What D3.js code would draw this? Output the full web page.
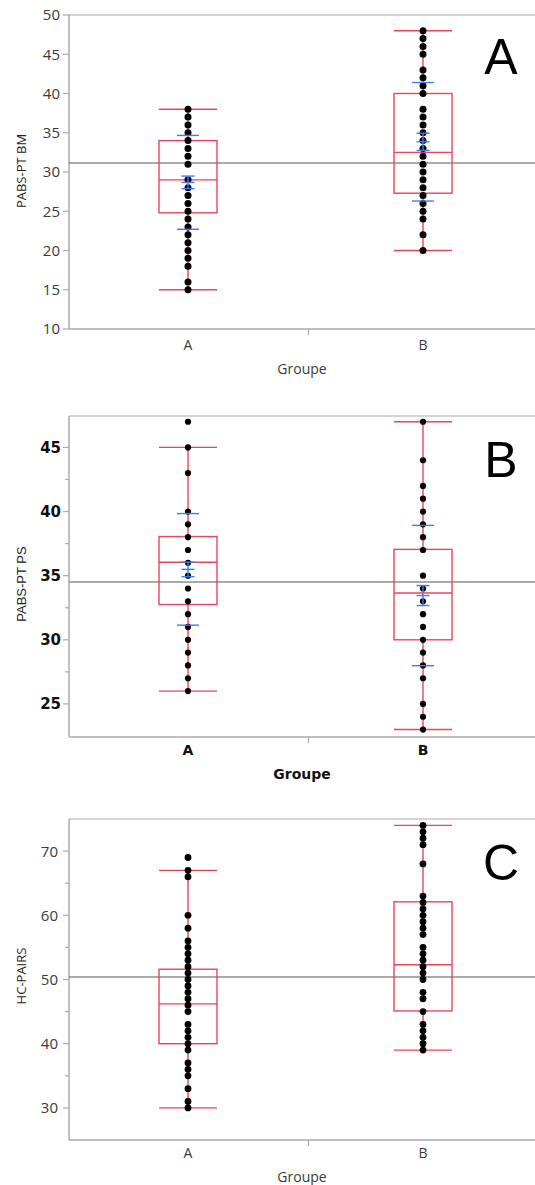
<!DOCTYPE html>
<html>
<head>
<meta charset="utf-8">
<script src="https://cdn.jsdelivr.net/npm/d3@7"></script>
<style>
  body { margin: 0; background: #fff; }
  svg { display: block; }
</style>
</head>
<body>
<div id="chart"></div>
<script>
// groups on the x axis
var groups = ["A", "B"];

// panel A : PABS-PT BM
var bmA = [38, 37, 36, 35, 34, 33, 32, 31, 29, 28, 27, 26, 25, 24, 23, 22, 21, 20, 19, 18, 16, 15];
var bmB = [48, 47, 46, 45, 43, 42, 41, 40, 38, 37, 36, 35, 34, 33, 32, 31, 30, 29, 28, 27, 26, 25, 24, 22, 20];
var bmBox = [[15, 24.8, 29, 34, 38], [20, 27.3, 32.5, 40, 48]];   // whisker lo, q1, median, q3, whisker hi
var bmMean = [28.68, 33.85];
var bmSD = [5.98, 7.55];
var bmSE = [0.8, 1.1];

// panel B : PABS-PT PS
var psA = [47, 45, 43, 40, 39, 38, 37, 36, 35, 34, 33, 32, 31, 30, 29, 28, 27, 26];
var psB = [47, 44, 42, 41, 40, 39, 38, 37, 35, 34, 33, 32, 31, 30, 29, 28, 27, 25, 24, 23];
var psBox = [[26, 32.75, 36.05, 38.05, 45], [23, 30, 33.65, 37.05, 47]];
var psMean = [35.49, 33.45];
var psSD = [4.35, 5.47];
var psSE = [0.57, 0.78];

// panel C : HC-PAIRS
var hcA = [69, 67, 66, 60, 58, 56, 55, 54, 53, 52, 51, 50, 49, 48, 47, 46, 45, 43, 42, 41, 40, 39, 37, 36, 35, 33, 31, 30];
var hcB = [74, 73, 72, 71, 68, 63, 62, 61, 60, 59, 58, 57, 55, 54, 53, 52, 51, 50, 48, 47, 45, 43, 42, 41, 40, 39];
var hcBox = [[30, 40, 46.2, 51.6, 67], [39, 45.1, 52.3, 62.1, 74]];

var grandMean = [31.15, 34.5, 50.4];

var red = "#e8465a",
    blue = "#3f7cf2",
    axisGrey = "#ababab";

var W = 535, H = 1185;

var svg = d3.select("#chart").append("svg")
    .attr("width", W)
    .attr("height", H);

var panels = [
  { letter: "A", title: "PABS-PT BM", pts: [bmA, bmB], box: bmBox, mean: bmMean, sd: bmSD, se: bmSE,
    grand: grandMean[0], domain: [10, 50], top: 15, bottom: 329, major: d3.range(10, 51, 5), minor: [],
    font: "'Open Sans', sans-serif", bold: false, tickSize: 15, tickEnd: 60, catY: 350, groupeY: 374,
    titleY: 171, titleFont: "'Open Sans', sans-serif", letterY: 74, r: 3.5 },
  { letter: "B", title: "PABS-PT PS", pts: [psA, psB], box: psBox, mean: psMean, sd: psSD, se: psSE,
    grand: grandMean[1], domain: [22.42, 47.45], top: 416, bottom: 737, major: d3.range(25, 46, 5), minor: [27.5, 32.5, 37.5, 42.5],
    font: "'DejaVu Sans', sans-serif", bold: true, tickSize: 15, tickEnd: 61, catY: 755, groupeY: 779,
    titleY: 584, titleFont: "'Liberation Sans', sans-serif", letterY: 477, r: 3.1 },
  { letter: "C", title: "HC-PAIRS", pts: [hcA, hcB], box: hcBox, mean: null,
    grand: grandMean[2], domain: [25, 75], top: 819, bottom: 1140, major: d3.range(30, 71, 10), minor: [35, 45, 55, 65],
    font: "'Open Sans', sans-serif", bold: false, tickSize: 15, tickEnd: 58, catY: 1158, groupeY: 1182,
    titleY: 976, titleFont: "'Open Sans', sans-serif", letterY: 880, r: 3.4 }
];

var left = 69, right = 535;
var x = d3.scalePoint().domain(groups).range([188, 423]);
var boxW = 58, sdW = 22, seW = 13;

panels.forEach(function (p) {
  var g = svg.append("g");
  var y = d3.scaleLinear().domain(p.domain).range([p.bottom, p.top]);
  var weight = p.bold ? "bold" : "normal";
  var txtCol = p.bold ? "#111" : "#3a3a3a";

  // frame
  g.append("line").attr("x1", left).attr("x2", right).attr("y1", p.top).attr("y2", p.top)
      .attr("stroke", "#c4c4c4").attr("stroke-width", 1.5);
  g.append("line").attr("x1", left).attr("x2", left).attr("y1", p.top).attr("y2", p.bottom)
      .attr("stroke", axisGrey).attr("stroke-width", 1.5);
  g.append("line").attr("x1", left).attr("x2", right).attr("y1", p.bottom).attr("y2", p.bottom)
      .attr("stroke", axisGrey).attr("stroke-width", 1.5);

  // y ticks
  g.selectAll(".major").data(p.major).enter().append("line")
      .attr("x1", left - 6).attr("x2", left)
      .attr("y1", function (d) { return y(d); }).attr("y2", function (d) { return y(d); })
      .attr("stroke", axisGrey).attr("stroke-width", 1.2);
  g.selectAll(".minor").data(p.minor).enter().append("line")
      .attr("x1", left - 4).attr("x2", left)
      .attr("y1", function (d) { return y(d); }).attr("y2", function (d) { return y(d); })
      .attr("stroke", axisGrey).attr("stroke-width", 1.2);
  g.selectAll(".tlab").data(p.major).enter().append("text")
      .attr("x", p.tickEnd)
      .attr("y", function (d) { return y(d); })
      .attr("dy", "0.36em")
      .attr("text-anchor", "end")
      .style("font-family", p.font).style("font-size", p.tickSize + "px").style("font-weight", weight)
      .attr("fill", txtCol)
      .text(function (d) { return d; });

  // x axis: divider tick and group labels
  var mid = (x("A") + x("B")) / 2 + 3;
  g.append("line").attr("x1", mid).attr("x2", mid).attr("y1", p.bottom).attr("y2", p.bottom + 6)
      .attr("stroke", axisGrey).attr("stroke-width", 1.2);
  g.selectAll(".cat").data(groups).enter().append("text")
      .attr("x", function (d) { return x(d); })
      .attr("y", p.catY)
      .attr("text-anchor", "middle")
      .style("font-family", p.font).style("font-size", "14px").style("font-weight", weight)
      .attr("fill", txtCol)
      .text(function (d) { return d; });
  g.append("text")
      .attr("x", 302).attr("y", p.groupeY)
      .attr("text-anchor", "middle")
      .style("font-family", p.font).style("font-size", "14px").style("font-weight", weight)
      .attr("fill", txtCol)
      .text("Groupe");

  // y title
  g.append("text")
      .attr("transform", "translate(26," + p.titleY + ") rotate(-90)")
      .attr("text-anchor", "middle")
      .style("font-family", p.titleFont).style("font-size", "13px")
      .attr("fill", "#222")
      .text(p.title);

  // panel letter
  g.append("text")
      .attr("x", 501).attr("y", p.letterY)
      .attr("text-anchor", "middle")
      .style("font-family", "'Liberation Sans', Arial, sans-serif").style("font-size", "50px")
      .attr("fill", "#000")
      .text(p.letter);

  // grand mean line
  g.append("line").attr("x1", left).attr("x2", right)
      .attr("y1", y(p.grand)).attr("y2", y(p.grand))
      .attr("stroke", "#8c8c8c").attr("stroke-width", 1.5);

  groups.forEach(function (grp, i) {
    var cx = x(grp), b = p.box[i];
    var red_g = g.append("g").attr("stroke", red).attr("stroke-width", 1.4).attr("fill", "none");

    // whiskers + caps
    red_g.append("line").attr("x1", cx).attr("x2", cx).attr("y1", y(b[0])).attr("y2", y(b[1]));
    red_g.append("line").attr("x1", cx).attr("x2", cx).attr("y1", y(b[3])).attr("y2", y(b[4]));
    [b[0], b[4]].forEach(function (v) {
      red_g.append("line").attr("x1", cx - boxW / 2).attr("x2", cx + boxW / 2)
          .attr("y1", y(v)).attr("y2", y(v));
    });
    // box + median
    red_g.append("rect")
        .attr("x", cx - boxW / 2).attr("width", boxW)
        .attr("y", y(b[3])).attr("height", y(b[1]) - y(b[3]));
    red_g.append("line").attr("x1", cx - boxW / 2).attr("x2", cx + boxW / 2)
        .attr("y1", y(b[2])).attr("y2", y(b[2]));

    // points
    g.selectAll(".pt" + i).data(p.pts[i]).enter().append("circle")
        .attr("cx", cx)
        .attr("cy", function (d) { return y(d); })
        .attr("r", p.r)
        .attr("fill", "#000");

    // mean, std dev lines and error bars
    if (p.mean) {
      var m = p.mean[i], sd = p.sd[i], se = p.se[i];
      var bl = g.append("g").attr("stroke", blue).attr("stroke-width", 1.4);
      [m - sd, m + sd].forEach(function (v) {
        bl.append("line").attr("x1", cx - sdW / 2).attr("x2", cx + sdW / 2)
            .attr("y1", y(v)).attr("y2", y(v));
      });
      bl.append("line").attr("x1", cx).attr("x2", cx).attr("y1", y(m - se)).attr("y2", y(m + se));
      [m - se, m, m + se].forEach(function (v) {
        bl.append("line").attr("x1", cx - seW / 2).attr("x2", cx + seW / 2)
            .attr("y1", y(v)).attr("y2", y(v));
      });
    }
  });
});
</script>
</body>
</html>
